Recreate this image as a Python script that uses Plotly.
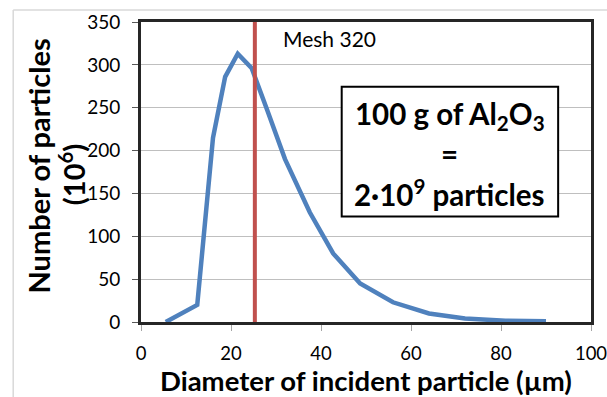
import plotly.graph_objects as go

# Data
diameter_um = [5.5, 12.5, 16.0, 18.7, 21.5, 24.6, 28.0, 32.0, 37.5, 42.7, 48.7, 56.0, 64.0, 72.0, 81.0, 90.0]
particles_1e6 = [0, 20, 215, 286, 313, 296, 248, 190, 128, 80, 45, 23, 10, 4, 1.5, 1]
mesh_x = [25.3, 25.3]
mesh_y = [0, 350]
x_ticks = [0, 20, 40, 60, 80, 100]
y_ticks = [0, 50, 100, 150, 200, 250, 300, 350]

FONT = "Lato"

fig = go.Figure()
fig.add_trace(go.Scatter(x=diameter_um, y=particles_1e6, mode="lines",
                         line=dict(color="#4f81bd", width=4.5), showlegend=False,
                         cliponaxis=False))
fig.add_trace(go.Scatter(x=mesh_x, y=mesh_y, mode="lines",
                         line=dict(color="#c0504d", width=4), showlegend=False))

fig.update_layout(
    width=607, height=397,
    margin=dict(l=141, r=16, t=22, b=75, autoexpand=False),
    paper_bgcolor="white", plot_bgcolor="white",
    font=dict(family=FONT, color="black"),
    xaxis=dict(range=[0, 100], tickvals=x_ticks, showgrid=False, zeroline=False,
               automargin=False, ticklabeloverflow="allow",
               showline=True, linecolor="#262626", linewidth=3, mirror=True,
               ticks="outside", ticklen=6, tickcolor="#a6a6a6", tickwidth=1,
               ticklabelstandoff=7,
               tickfont=dict(size=18.5, family=FONT)),
    yaxis=dict(range=[0, 350], tickvals=y_ticks, showgrid=True, gridcolor="#bfbfbf",
               gridwidth=1, zeroline=False, automargin=False,
               showline=True, linecolor="#262626", linewidth=3, mirror=True,
               ticks="outside", ticklen=6, tickcolor="#595959", tickwidth=1,
               ticklabelstandoff=8,
               tickfont=dict(size=19, family=FONT)),
)

# axis titles
fig.add_annotation(x=0.5, y=-0.195, xref="paper", yref="paper",
                   text="<b>Diameter of incident particle (µm)</b>", showarrow=False,
                   xanchor="center", yanchor="middle", font=dict(size=27.5, family=FONT))
fig.add_annotation(x=-0.23, y=0.52, xref="paper", yref="paper",
                   text="<b>Number of particles</b>", showarrow=False, textangle=-90,
                   xanchor="center", yanchor="middle", font=dict(size=29, family=FONT))
fig.add_annotation(x=-0.153, y=0.49, xref="paper", yref="paper",
                   text="<b>(10<sup>6</sup>)</b>", showarrow=False, textangle=-90,
                   xanchor="center", yanchor="middle", font=dict(size=29, family=FONT))

# outer light frame
fig.add_shape(type="line", xref="paper", yref="paper", x0=-0.284, y0=1.04, x1=1.06, y1=1.04,
              line=dict(color="#d9d9d9", width=1.5), layer="below")
fig.add_shape(type="line", xref="paper", yref="paper", x0=-0.284, y0=1.04, x1=-0.284, y1=-0.26,
              line=dict(color="#d9d9d9", width=1.5), layer="below")

# text box
fig.add_shape(type="rect", xref="x", yref="y", x0=44.6, x1=92.7, y0=123, y1=274.5,
              line=dict(color="black", width=2), fillcolor="white", layer="above")

fig.add_annotation(x=31.0, y=331, xref="x", yref="y", text="Mesh 320", showarrow=False,
                   xanchor="left", yanchor="middle", font=dict(size=21, family=FONT))
fig.add_annotation(x=68.65, y=241, xref="x", yref="y",
                   text="<b>100 g of Al<sub>2</sub>O<sub>3</sub></b>", showarrow=False,
                   xanchor="center", yanchor="middle", font=dict(size=29.5, family=FONT))
fig.add_annotation(x=68.65, y=197, xref="x", yref="y",
                   text="<b>=</b>", showarrow=False,
                   xanchor="center", yanchor="middle", font=dict(size=29.5, family=FONT))
fig.add_annotation(x=68.65, y=150, xref="x", yref="y",
                   text="<b>2·10<sup>9</sup> particles</b>", showarrow=False,
                   xanchor="center", yanchor="middle", font=dict(size=29.5, family=FONT))

fig.write_html("out.html", config={"displayModeBar": False},
               post_script="document.body.style.margin='0';document.body.style.overflow='hidden';")
